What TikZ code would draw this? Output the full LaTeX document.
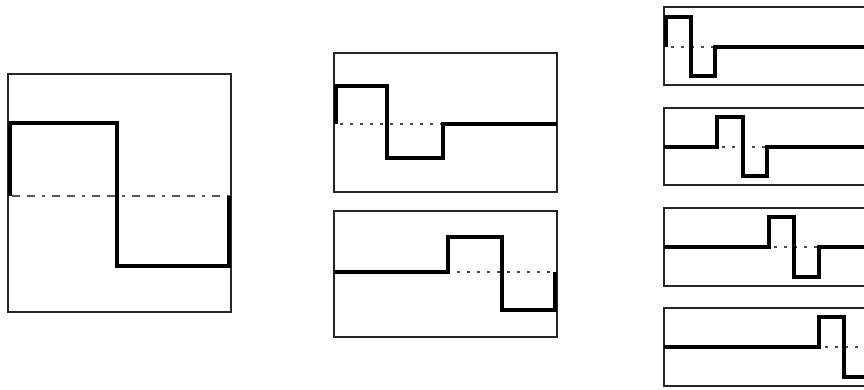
\documentclass[tikz,border=0pt]{standalone}
\begin{document}
\begin{tikzpicture}[x=1pt,y=-1pt,
  frame/.style={draw=black!85, line width=1.7pt},
  wave/.style={draw=black, line width=3.8pt, line join=miter},
  axisdash/.style={draw=black!65, line width=2pt, dash pattern=on 8pt off 7pt on 8pt off 7pt on 3pt off 7pt},
  axisdot/.style={draw=black!70, line width=1.8pt, dash pattern=on 3pt off 7pt}]
\useasboundingbox (0,0) rectangle (864,389);
\clip (0,0) rectangle (864,389);

% level 0: single wavelet filling the frame
\draw[frame] (8,74) rectangle (231,312);
\draw[axisdash] (12,196) -- (231,196);
\draw[wave] (10,196) -- (10,123) -- (117,123) -- (117,266) -- (229,266) -- (229,196);

% level 1: two shifted wavelets
\draw[frame] (334,53) rectangle (557,192);
\draw[axisdot] (340,124) -- (443,124);
\draw[wave] (336,124) -- (336,86) -- (387,86) -- (387,158) -- (443,158) -- (443,124) -- (557,124);

\draw[frame] (334,211) rectangle (557,337);
\draw[axisdot] (457,272) -- (555,272);
\draw[wave] (334,272) -- (448,272) -- (448,237) -- (502,237) -- (502,310) -- (555,310) -- (555,272);

% level 2: four shifted wavelets
\draw[frame] (664,7) rectangle (868,85);
\draw[axisdot] (671,47) -- (715,47);
\draw[wave] (666,47) -- (666,17) -- (691,17) -- (691,76) -- (715,76) -- (715,47) -- (868,47);

\draw[frame] (664,108) rectangle (868,185);
\draw[axisdot] (722,147) -- (767,147);
\draw[wave] (664,147) -- (717,147) -- (717,117) -- (743,117) -- (743,176) -- (767,176) -- (767,147) -- (868,147);

\draw[frame] (664,208) rectangle (868,286);
\draw[axisdot] (774,247) -- (819,247);
\draw[wave] (664,247) -- (769,247) -- (769,217) -- (794,217) -- (794,277) -- (819,277) -- (819,247) -- (868,247);

\draw[frame] (664,308) rectangle (868,386);
\draw[axisdot] (825,347) -- (868,347);
\draw[wave] (664,347) -- (819,347) -- (819,317) -- (844,317) -- (844,377) -- (870,377) -- (870,347);
\end{tikzpicture}
\end{document}
